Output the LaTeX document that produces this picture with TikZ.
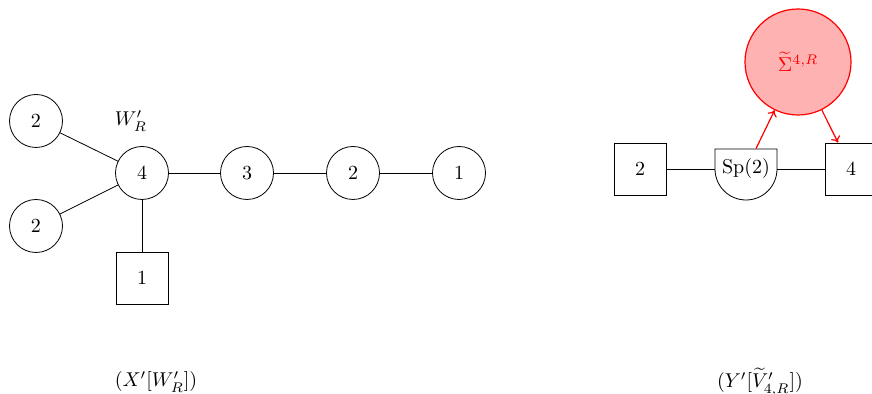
\documentclass[tikz,border=0pt]{standalone}
\usetikzlibrary{arrows.meta}
\begin{document}
\begin{tikzpicture}[x=0.5pt,y=-0.5pt,
  gauge/.style={draw,circle,minimum size=26.5pt,inner sep=0pt},
  flav/.style={draw,rectangle,minimum size=26pt,inner sep=0pt},
  redarrow/.style={draw=red,line width=0.6pt,-{To[length=3pt,width=5pt]}},
  edge/.style={draw}]
\useasboundingbox (0,0) rectangle (872,394);
% left quiver
\node[gauge] (c4) at (142,173) {$4$};
\node[gauge] (c3) at (247,173) {$3$};
\node[gauge] (c2) at (353,173) {$2$};
\node[gauge] (c1) at (459,173) {$1$};
\node[gauge] (t2) at (36,121) {$2$};
\node[gauge] (b2) at (36,226) {$2$};
\node[flav] (f1) at (142,278) {$1$};
\node (wl) at (131,121) {$W'_R$};
\draw[edge] (t2) -- (c4);
\draw[edge] (b2) -- (c4);
\draw[edge] (c4) -- (c3);
\draw[edge] (c3) -- (c2);
\draw[edge] (c2) -- (c1);
\draw[edge] (c4) -- (f1);
\node (capl) at (156,382) {$(X'[W'_R])$};
% right quiver
\node[flav] (s2) at (640,169) {$2$};
\node[flav] (s4) at (851,169) {$4$};
\node[minimum width=31pt,minimum height=20pt,inner sep=0pt] (sp) at (746,169) {$\mathrm{Sp}(2)$};
\draw (715,149) -- (715,169) arc[start angle=180,end angle=0,radius=31] -- (777,149) -- cycle;
\node[circle,draw=red,fill=red!30,line width=0.6pt,minimum size=53pt,inner sep=0pt,text=red] (sig) at (798,62) {$\widetilde{\Sigma}^{4,R}$};
\draw[edge] (s2) -- (sp);
\draw[edge] (sp) -- (s4);
\coordinate (spa) at ([xshift=5pt]sp.north);
\coordinate (s4a) at ([xshift=-6.5pt]s4.north);
\draw[redarrow] (spa) -- (sig);
\draw[redarrow] (sig) -- (s4a);
\node (capr) at (760,382) {$(Y'[\widetilde{V}'_{4,R}])$};
\end{tikzpicture}
\end{document}
